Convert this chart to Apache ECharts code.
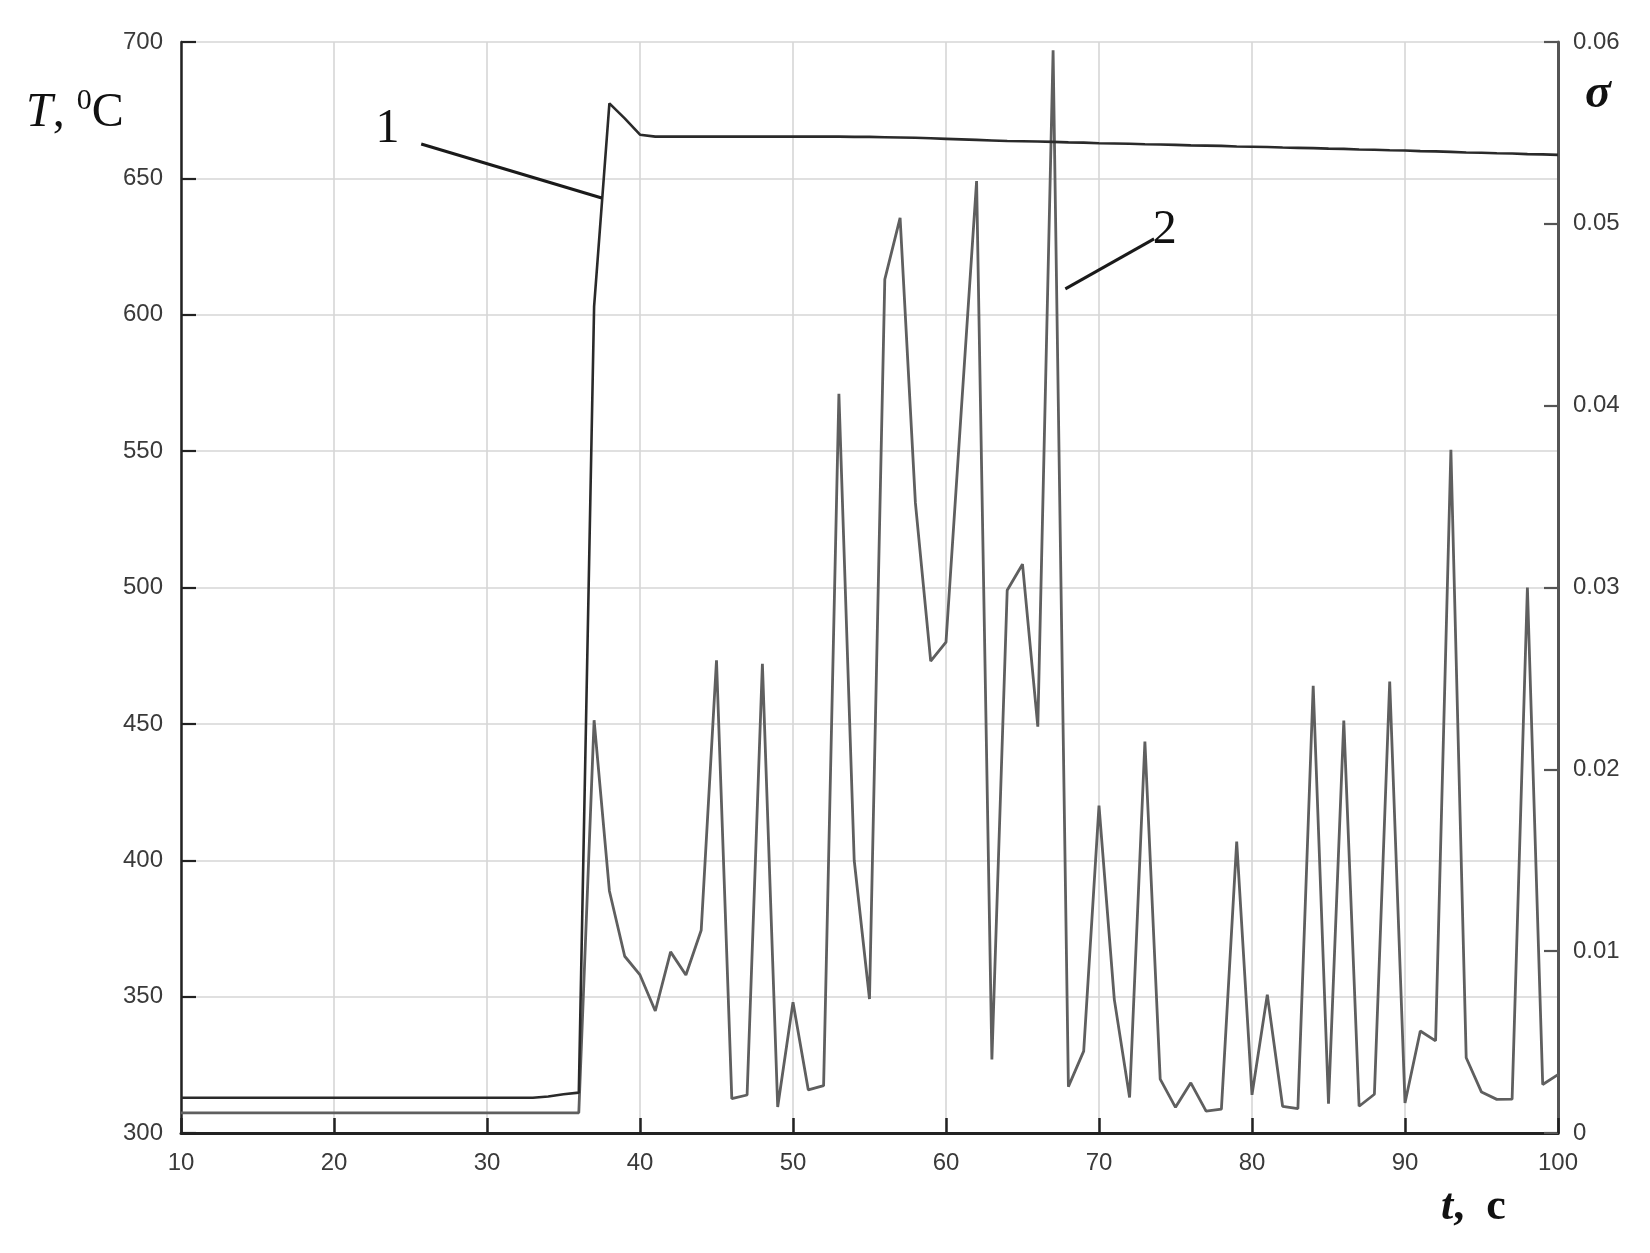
<!DOCTYPE html>
<html><head><meta charset="utf-8">
<script src="https://cdn.jsdelivr.net/npm/echarts@6/dist/echarts.min.js"></script>
<style>html,body{margin:0;padding:0;background:#fff}#c{width:1650px;height:1253px}</style>
</head><body><div id="c"></div>
<script>
// time, s
const time = [10,11,12,13,14,15,16,17,18,19,20,21,22,23,24,25,26,27,28,29,30,31,32,33,34,35,36,37,38,39,40,41,42,43,44,45,46,47,48,49,50,51,52,53,54,55,56,57,58,59,60,61,62,63,64,65,66,67,68,69,70,71,72,73,74,75,76,77,78,79,80,81,82,83,84,85,86,87,88,89,90,91,92,93,94,95,96,97,98,99,100];
// curve 1: temperature T, °C (left axis)
const temperature = [312.9,312.9,312.9,312.9,312.9,312.9,312.9,312.9,312.9,312.9,312.9,312.9,312.9,312.9,312.9,312.9,312.9,312.9,312.9,312.9,312.9,312.9,312.9,312.9,
  313.4,314.2,314.8,603,677.5,672,666,665.3,665.3,665.3,665.3,665.3,665.3,665.3,665.3,665.3,665.3,665.3,665.3,665.3,665.2,665.2,665.1,665,664.9,664.7,
  664.5,664.3,664.1,663.9,663.7,663.6,663.5,663.4,663.2,663.1,662.9,662.8,662.7,662.5,662.4,662.3,662.1,662,661.9,661.7,
  661.6,661.5,661.3,661.2,661.1,660.9,660.8,660.6,660.5,660.3,660.2,660,659.9,659.7,659.5,659.4,659.2,659.1,658.9,658.8,658.6];
// curve 2: sigma (right axis)
const sigma = [0.00111,0.00111,0.00111,0.00111,0.00111,0.00111,0.00111,0.00111,0.00111,0.00111,0.00111,0.00111,0.00111,0.00111,0.00111,0.00111,0.00111,0.00111,0.00111,0.00111,0.00111,0.00111,0.00111,0.00111,0.00111,0.00111,0.00111,
  0.0227,0.01331,0.00972,0.00869,0.00671,0.00996,0.00869,0.01115,0.026,0.00189,0.00209,0.0258,0.00143,0.00719,0.00237,0.0026,0.04065,0.015,0.00737,
  0.04695,0.05033,0.03465,0.02595,0.027,0.03975,0.05235,0.00405,0.02985,0.03128,0.02235,0.05955,0.00255,0.0045,0.018,0.00735,0.00195,0.02153,0.00296,0.00141,
  0.00276,0.0012,0.00131,0.01602,0.0021,0.00761,0.00147,0.00134,0.0246,0.00161,0.02268,0.00147,0.00213,0.02483,0.00165,0.00561,0.00507,0.03758,0.00414,0.00225,
  0.00185,0.00186,0.03,0.00267,0.00321];
const xTicks = {min:10, max:100, interval:10};
const tTicks = {min:300, max:700, interval:50};
const sTicks = {min:0, max:0.06, interval:0.01};
// annotation leaders (in t, T units)
const leader1 = [[25.7,662.6],[37.5,642.8]];
const leader2 = [[67.8,609.5],[73.6,627.8]];
const label1 = [23.5,667.8];
const label2 = [74.3,631.1];

const chart = echarts.init(document.getElementById('c'), null, {renderer:'canvas'});
const labelFont = {color:'#3a3a3a', fontSize:24, fontFamily:'Liberation Sans'};
const grid = {color:'#d6d6d6', width:1.6};
chart.setOption({
  animation:false,
  backgroundColor:'#fff',
  grid:{left:181, right:92, top:42, bottom:120, containLabel:false},
  xAxis:{type:'value', min:xTicks.min, max:xTicks.max, interval:xTicks.interval,
    axisLine:{lineStyle:{color:'#222', width:3}},
    axisTick:{inside:true, length:15, lineStyle:{color:'#222', width:2.5}},
    axisLabel:Object.assign({margin:18}, labelFont),
    splitLine:{show:true, lineStyle:grid}},
  yAxis:[
    {type:'value', position:'left', min:tTicks.min, max:tTicks.max, interval:tTicks.interval,
      axisLine:{show:true, lineStyle:{color:'#222', width:2.5}},
      axisTick:{show:true, inside:true, length:15, lineStyle:{color:'#222', width:2.2}},
      axisLabel:Object.assign({margin:18}, labelFont),
      splitLine:{show:true, lineStyle:grid}},
    {type:'value', position:'right', min:sTicks.min, max:sTicks.max, interval:sTicks.interval,
      axisLine:{show:true, lineStyle:{color:'#555', width:3}},
      axisTick:{show:true, inside:true, length:14, lineStyle:{color:'#555', width:2.2}},
      axisLabel:Object.assign({margin:15, formatter:v=>String(+v.toFixed(2))}, labelFont),
      splitLine:{show:false}}
  ],
  series:[
    {type:'line', yAxisIndex:0, showSymbol:false, data:time.map((t,i)=>[t,temperature[i]]),
      lineStyle:{color:'#2a2a2a', width:2.6}, z:3,
      markLine:{silent:true, symbol:['none','none'], label:{show:false},
        lineStyle:{color:'#1a1a1a', width:3, type:'solid'},
        data:[[{coord:leader1[0]},{coord:leader1[1]}],[{coord:leader2[0]},{coord:leader2[1]}]]},
      markPoint:{silent:true, symbol:'circle', symbolSize:1, itemStyle:{color:'rgba(0,0,0,0)'},
        label:{show:true, position:'inside', color:'#111', fontSize:48, fontFamily:'Liberation Serif', formatter:p=>p.name},
        data:[{name:'1', coord:label1},{name:'2', coord:label2}]}},
    {type:'line', yAxisIndex:1, showSymbol:false, data:time.map((t,i)=>[t,sigma[i]]),
      lineStyle:{color:'#5f5f5f', width:2.8}, z:2}
  ],
  graphic:[
    {type:'text', x:26, y:113, style:{text:'{a|T}{b|, }{c|0}{b|C}', textVerticalAlign:'middle',
      rich:{a:{fontSize:48, fontStyle:'italic', fontFamily:'Liberation Serif', fill:'#111'},
            b:{fontSize:48, fontFamily:'Liberation Serif', fill:'#111'},
            c:{fontSize:30, fontFamily:'Liberation Serif', fill:'#111', padding:[0,0,24,0]}}}},
    {type:'text', x:1598, y:95, style:{text:'σ', textAlign:'center', textVerticalAlign:'middle',
      font:'italic bold 48px "Liberation Serif"', fill:'#111'}},
    {type:'text', x:1441, y:1208, style:{text:'{a|t}{b|,  c}', textVerticalAlign:'middle',
      rich:{a:{fontSize:44, fontStyle:'italic', fontWeight:'bold', fontFamily:'Liberation Serif', fill:'#111'},
            b:{fontSize:44, fontWeight:'bold', fontFamily:'Liberation Serif', fill:'#111'}}}}
  ]
});
</script>
</body></html>
